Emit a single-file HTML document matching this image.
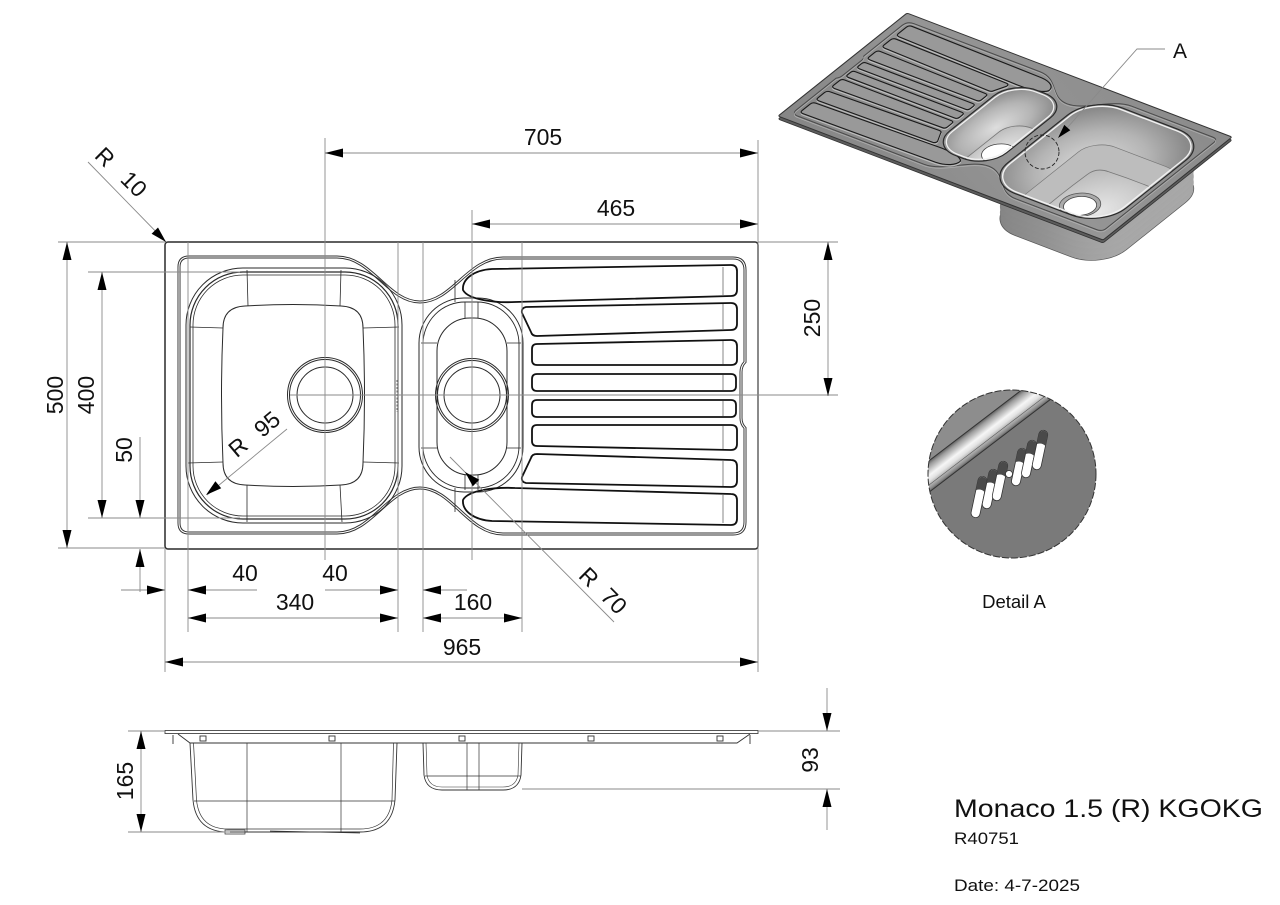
<!DOCTYPE html>
<html><head><meta charset="utf-8"><style>
html,body{margin:0;padding:0;background:#fff;}
svg{display:block;}
text{font-family:"Liberation Sans",Arial,sans-serif;fill:#111;}
</style></head><body>
<svg width="1280" height="905" viewBox="0 0 1280 905" xmlns="http://www.w3.org/2000/svg">
<defs>
<rect id="outl" vector-effect="non-scaling-stroke" x="165" y="242" width="593" height="307" rx="3"/>
<path id="rim" vector-effect="non-scaling-stroke" d="M189 257 L337 257 C372 257 388 302 420 302 C452 302 468 258 503 258 L733 258 Q745 258 745 270 L745 362 Q741 366 741 372 L741 418 Q741 424 745 428 L745 522 Q745 534 733 534 L503 534 C468 534 452 488 420 488 C388 488 372 533 337 533 L189 533 Q179 533 179 523 L179 267 Q179 257 189 257 Z"/>
<rect id="bb" vector-effect="non-scaling-stroke" x="186" y="268" width="216" height="255" rx="57"/>
<rect id="bb2" vector-effect="non-scaling-stroke" x="190" y="272" width="208" height="247" rx="53"/>
<rect id="bbi1" vector-effect="non-scaling-stroke" x="197" y="279" width="194" height="233" rx="48"/>
<rect id="bbi2" vector-effect="non-scaling-stroke" x="210" y="292" width="168" height="207" rx="38"/>
<path id="bbf" vector-effect="non-scaling-stroke" d="M245 306 Q293 303 341 306 Q363 307 363 328 Q366 395 363 463 Q363 484 341 485 Q293 488 245 485 Q223 484 223 463 Q220 395 223 328 Q223 307 245 306 Z"/>
<rect id="sb" vector-effect="non-scaling-stroke" x="419" y="298" width="104" height="194" rx="45"/>
<rect id="sb2" vector-effect="non-scaling-stroke" x="423" y="302" width="96" height="186" rx="42"/>
<rect id="sbf" vector-effect="non-scaling-stroke" x="437" y="318" width="70" height="157" rx="33"/>
<circle id="dr1" vector-effect="non-scaling-stroke" cx="325" cy="395" r="30"/>
<circle id="dr2" vector-effect="non-scaling-stroke" cx="472" cy="395" r="26"/>
<path id="grv" vector-effect="non-scaling-stroke" d="
M463 290 C462 279 474 270 492 269 L731 265 Q737 265 737 271 L737 290 Q737 296 731 296 L515 302 C496 303 468 300 463 290 Z
M526 307 L731 303 Q737 303 737 309 L737 324 Q737 330 731 330 L537 336 Q532 336 531 332 L522 313 Q521 308 526 307 Z
M537 344 L731 340 Q737 340 737 346 L737 360 Q737 365 731 365 L537 365 Q532 365 532 360 L532 349 Q532 344 537 344 Z
M537 374 L731 374 Q736 374 736 379 L736 386 Q736 391 731 391 L537 391 Q532 391 532 386 L532 379 Q532 374 537 374 Z
M537 400 L731 400 Q736 400 736 405 L736 412 Q736 417 731 417 L537 417 Q532 417 532 412 L532 405 Q532 400 537 400 Z
M537 446 L731 450 Q737 450 737 444 L737 430 Q737 425 731 425 L537 425 Q532 425 532 430 L532 441 Q532 446 537 446 Z
M526 483 L731 487 Q737 487 737 481 L737 466 Q737 460 731 460 L537 454 Q532 454 531 458 L522 477 Q521 482 526 483 Z
M463 500 C462 511 474 520 492 521 L731 525 Q737 525 737 519 L737 500 Q737 494 731 494 L515 488 C496 487 468 490 463 500 Z"/>
<linearGradient id="pg" x1="0" y1="0" x2="1" y2="1">
<stop offset="0" stop-color="#8b8b8b"/><stop offset="0.5" stop-color="#959595"/><stop offset="1" stop-color="#868686"/>
</linearGradient>
<radialGradient id="bwg" cx="0.5" cy="0.55" r="0.6">
<stop offset="0" stop-color="#dedede"/><stop offset="0.6" stop-color="#b4b4b4"/><stop offset="1" stop-color="#8a8a8a"/>
</radialGradient>
<radialGradient id="flg" cx="0.5" cy="0.5" r="0.6">
<stop offset="0" stop-color="#e8e8e8"/><stop offset="1" stop-color="#bdbdbd"/>
</radialGradient>
<linearGradient id="bodyg" x1="0" y1="0" x2="1" y2="0">
<stop offset="0" stop-color="#a8a8a8"/><stop offset="0.5" stop-color="#929292"/><stop offset="1" stop-color="#828282"/>
</linearGradient>
<clipPath id="cbb"><use href="#bb" transform="matrix(-0.548 -0.209 -0.420 0.3355 1424.06 90.3)"/></clipPath>
<clipPath id="csb"><use href="#sb" transform="matrix(-0.548 -0.209 -0.420 0.3355 1424.06 90.3)"/></clipPath>
<clipPath id="cdA"><circle cx="1012" cy="474" r="84"/></clipPath>
<linearGradient id="band" gradientUnits="userSpaceOnUse" x1="928" y1="462" x2="943.2" y2="481.9">
<stop offset="0" stop-color="#666"/><stop offset="0.12" stop-color="#9c9c9c"/><stop offset="0.45" stop-color="#f6f6f6"/><stop offset="0.62" stop-color="#e2e2e2"/><stop offset="0.9" stop-color="#8a8a8a"/><stop offset="1" stop-color="#555"/>
</linearGradient>
</defs>

<rect width="1280" height="905" fill="#fff"/>

<!-- ================= TOP VIEW ================= -->
<g fill="none" stroke="#2a2a2a" stroke-width="1">
  <use href="#outl" stroke-width="1.5"/>
  <use href="#rim" stroke="#333" stroke-width="3"/>
  <use href="#rim" stroke="#fff" stroke-width="1.1"/>
  <use href="#bb"/>
  <use href="#bb2" stroke-width="1.2"/>
  <rect x="193" y="275" width="202" height="241" rx="50" stroke-width="0.8"/>
  <use href="#bbf"/>
  <path d="M247 270 L248 306 M341 270 L340 306 M190 327 L223 328 M188 463 L223 462 M363 328 L399 327 M363 462 L399 463 M247 485 L247 522 M340 485 L342 522" stroke-width="0.8"/>
  <circle cx="325" cy="395" r="37.5"/>
  <circle cx="325" cy="395" r="35.5"/>
  <circle cx="325" cy="395" r="28"/>
  <use href="#sb"/>
  <use href="#sb2" stroke-width="0.9"/>
  <use href="#sbf"/>
  <path d="M465 302 L465 318 M478 302 L478 318 M465 475 L465 490 M478 475 L478 490 M421 343 L437 343 M421 448 L437 448 M507 343 L521 343 M507 448 L521 448 M455 280 L455 302 M455 488 L455 512" stroke-width="0.8"/>
  <circle cx="472" cy="395" r="36.5"/>
  <circle cx="472" cy="395" r="34.5"/>
  <circle cx="472" cy="395" r="28"/>
  <use href="#grv" stroke="#111" stroke-width="1.8"/>
  <path d="M723 267 L723 295 M723 304 L723 329 M723 341 L723 364 M723 375 L723 390 M723 401 L723 416 M723 426 L723 449 M723 461 L723 486 M723 495 L723 523" stroke-width="0.7" stroke="#555"/>
  <path d="M397 380 L397 412 M746 395 L752 395" stroke-width="0.8" stroke="#444" stroke-dasharray="2 1.5"/>
</g>

<!-- ================= DIMENSIONS (top view) ================= -->
<g stroke="#8a8a8a" stroke-width="0.9" fill="none">
  <path d="M325 138 L325 560 M472 210 L472 560 M758 140 L758 672 M165 549 L165 672"/>
  <path d="M290 395 L838 395 M758 242 L838 242"/>
  <path d="M58 242 L165 242 M58 548 L165 548 M88 272 L240 272 M88 518 L240 518"/>
  <path d="M188 242 L188 632 M398 242 L398 632 M423 242 L423 632 M522 242 L522 632"/>
  <path d="M325 153 L758 153 M472 224 L758 224 M828 242 L828 396"/>
  <path d="M67 242 L67 548 M102 272 L102 518 M140 437 L140 518 M140 549 L140 592"/>
  <path d="M121 590 L165 590 M188 590 L257 590 M325 590 L398 590 M423 590 L467 590"/>
  <path d="M188 618 L398 618 M423 618 L522 618 M165 662 L758 662"/>
  <path d="M88 162 L166 242 M207 495 L287 429 M450 457 L614 622"/>
</g>
<g fill="#000" stroke="none">
  <polygon points="325,153 343,148.5 343,157.5"/>
  <polygon points="758,153 740,148.5 740,157.5"/>
  <polygon points="472,224 490,219.5 490,228.5"/>
  <polygon points="758,224 740,219.5 740,228.5"/>
  <polygon points="828,242 823.5,260 832.5,260"/>
  <polygon points="828,396 823.5,378 832.5,378"/>
  <polygon points="67,242 62.5,260 71.5,260"/>
  <polygon points="67,548 62.5,530 71.5,530"/>
  <polygon points="102,272 97.5,290 106.5,290"/>
  <polygon points="102,518 97.5,500 106.5,500"/>
  <polygon points="140,518 135.5,500 144.5,500"/>
  <polygon points="140,549 135.5,567 144.5,567"/>
  <polygon points="165,590 147,585.5 147,594.5"/>
  <polygon points="188,590 206,585.5 206,594.5"/>
  <polygon points="398,590 380,585.5 380,594.5"/>
  <polygon points="423,590 441,585.5 441,594.5"/>
  <polygon points="188,618 206,613.5 206,622.5"/>
  <polygon points="398,618 380,613.5 380,622.5"/>
  <polygon points="423,618 441,613.5 441,622.5"/>
  <polygon points="522,618 504,613.5 504,622.5"/>
  <polygon points="165,662 183,657.5 183,666.5"/>
  <polygon points="758,662 740,657.5 740,666.5"/>
  <polygon points="166,242 158,227.5 151.6,233.8"/>
  <polygon points="206,495 221.2,488.3 215.4,481.3"/>
  <polygon points="465,472 479.3,479.8 472.8,486.2"/>
</g>
<g font-size="23" text-anchor="middle">
  <text x="543" y="145">705</text>
  <text x="616" y="216">465</text>
  <text x="245" y="581">40</text>
  <text x="335" y="581">40</text>
  <text x="295" y="610">340</text>
  <text x="473" y="610">160</text>
  <text x="462" y="655">965</text>
  <text transform="translate(63,395) rotate(-90)">500</text>
  <text transform="translate(94,395) rotate(-90)">400</text>
  <text transform="translate(132,450) rotate(-90)">50</text>
  <text transform="translate(820,318) rotate(-90)">250</text>
  <text transform="translate(105,157) rotate(45)" dy="8">R</text>
  <text transform="translate(134,184) rotate(45)" dy="8">10</text>
  <text transform="translate(238,447) rotate(-40)" dy="8">R</text>
  <text transform="translate(267,424) rotate(-40)" dy="8">95</text>
  <text transform="translate(589,577) rotate(45)" dy="8">R</text>
  <text transform="translate(614,601) rotate(45)" dy="8">70</text>
</g>

<!-- ================= SIDE VIEW ================= -->
<g fill="none" stroke="#333" stroke-width="0.9">
  <rect x="165" y="730.5" width="593" height="3" stroke="#444"/>
  <path d="M178 734 L190 743 L737 743 L750 734"/>
  <path d="M173 735 L173 744 M750 735 L750 744"/>
  <rect x="200" y="736" width="6" height="5"/>
  <rect x="329" y="736" width="6" height="5"/>
  <rect x="459" y="736" width="6" height="5"/>
  <rect x="588" y="736" width="6" height="5"/>
  <rect x="717" y="736" width="6" height="5"/>
  <path d="M190 743 L193 800 Q196 832 228 832 L360 832 Q392 832 395 800 L397 743"/>
  <path d="M193.5 743 L196.5 800 Q199.5 829 228 829 L360 829 Q389 829 392 800 L393.5 743" stroke-width="0.7"/>
  <path d="M194 801 L395 801 M247 743 L247 832 M341 743 L341 832" stroke-width="0.7"/>
  <path d="M225 830 L245 830 L245 834 L225 834 Z M270 831 L360 833" stroke-width="0.7"/>
  <path d="M423 743 L424 775 Q426 790 442 790 L503 790 Q519 790 521 775 L522 743"/>
  <path d="M426 743 L427 775 Q429 787 442 787 L503 787 Q516 787 518 775 L519 743" stroke-width="0.6"/>
  <path d="M425 776 L521 776 M467 743 L467 790 M479 743 L479 790" stroke-width="0.7"/>
</g>
<g stroke="#8a8a8a" stroke-width="0.9" fill="none">
  <path d="M128 731 L165 731 M128 832 L230 832 M141 731 L141 832"/>
  <path d="M758 731 L840 731 M522 789 L840 789 M827 688 L827 731 M827 789 L827 830"/>
</g>
<g fill="#000">
  <polygon points="141,731 136.5,749 145.5,749"/>
  <polygon points="141,832 136.5,814 145.5,814"/>
  <polygon points="827,731 822.5,713 831.5,713"/>
  <polygon points="827,789 822.5,807 831.5,807"/>
</g>
<g font-size="23" text-anchor="middle">
  <text transform="translate(133,781) rotate(-90)">165</text>
  <text transform="translate(818,760) rotate(-90)">93</text>
</g>

<!-- ================= ISO VIEW ================= -->
<g>
  <use href="#bbi2" transform="translate(0,50) matrix(-0.548 -0.209 -0.420 0.3355 1424.06 90.3)" fill="#a2a2a2" stroke="#444" stroke-width="0.9"/>
  <use href="#bbi1" transform="translate(0,46) matrix(-0.548 -0.209 -0.420 0.3355 1424.06 90.3)" fill="#a0a0a0" stroke="#555" stroke-width="0.7"/>
  <use href="#bb" transform="translate(0,42) matrix(-0.548 -0.209 -0.420 0.3355 1424.06 90.3)" fill="url(#bodyg)" stroke="#555" stroke-width="0.7"/>
  <use href="#bb" transform="translate(0,36) matrix(-0.548 -0.209 -0.420 0.3355 1424.06 90.3)" fill="url(#bodyg)"/>
  <use href="#bb" transform="translate(0,30) matrix(-0.548 -0.209 -0.420 0.3355 1424.06 90.3)" fill="url(#bodyg)"/>
  <use href="#bb" transform="translate(0,24) matrix(-0.548 -0.209 -0.420 0.3355 1424.06 90.3)" fill="url(#bodyg)"/>
  <use href="#bb" transform="translate(0,18) matrix(-0.548 -0.209 -0.420 0.3355 1424.06 90.3)" fill="url(#bodyg)"/>
  <use href="#bb" transform="translate(0,12) matrix(-0.548 -0.209 -0.420 0.3355 1424.06 90.3)" fill="url(#bodyg)"/>
  <use href="#bb" transform="translate(0,6) matrix(-0.548 -0.209 -0.420 0.3355 1424.06 90.3)" fill="url(#bodyg)"/>
  <use href="#outl" transform="translate(0,3) matrix(-0.548 -0.209 -0.420 0.3355 1424.06 90.3)" fill="#5c5c5c" stroke="#333" stroke-width="0.8"/>
  <use href="#outl" transform="matrix(-0.548 -0.209 -0.420 0.3355 1424.06 90.3)" fill="url(#pg)" stroke="#333" stroke-width="1"/>
  <use href="#rim" transform="matrix(-0.548 -0.209 -0.420 0.3355 1424.06 90.3)" fill="none" stroke="#4a4a4a" stroke-width="1"/>
  <use href="#rim" transform="translate(0,1.5) matrix(-0.548 -0.209 -0.420 0.3355 1424.06 90.3)" fill="none" stroke="#b0b0b0" stroke-width="0.7"/>
  <use href="#grv" transform="translate(0,1.5) matrix(-0.548 -0.209 -0.420 0.3355 1424.06 90.3)" fill="none" stroke="#c0c0c0" stroke-width="1"/>
  <use href="#grv" transform="matrix(-0.548 -0.209 -0.420 0.3355 1424.06 90.3)" fill="#999" stroke="#1a1a1a" stroke-width="1.1"/>
  <g clip-path="url(#cbb)">
    <use href="#bb" transform="matrix(-0.548 -0.209 -0.420 0.3355 1424.06 90.3)" fill="url(#bwg)"/>
    <use href="#bbi2" transform="translate(0,30) matrix(-0.548 -0.209 -0.420 0.3355 1424.06 90.3)" fill="#bdbdbd" stroke="#777" stroke-width="0.7"/>
    <use href="#bbf" transform="translate(0,50) matrix(-0.548 -0.209 -0.420 0.3355 1424.06 90.3)" fill="url(#flg)" stroke="#777" stroke-width="0.8"/>
    <use href="#dr1" transform="translate(0,50) matrix(-0.548 -0.209 -0.420 0.3355 1424.06 90.3)" fill="#aaa" stroke="#555" stroke-width="0.8"/>
    <use href="#dr1" transform="translate(0,51) matrix(-0.548 -0.209 -0.420 0.3355 1424.06 90.3) translate(325 395) scale(0.8) translate(-325 -395)" fill="#fff" stroke="#444" stroke-width="0.8"/>
  </g>
  <use href="#bb" transform="matrix(-0.548 -0.209 -0.420 0.3355 1424.06 90.3)" fill="none" stroke="#2a2a2a" stroke-width="1.2"/>
  <use href="#bb2" transform="matrix(-0.548 -0.209 -0.420 0.3355 1424.06 90.3)" fill="none" stroke="#f0f0f0" stroke-width="1.4"/>
  <g clip-path="url(#csb)">
    <use href="#sb" transform="matrix(-0.548 -0.209 -0.420 0.3355 1424.06 90.3)" fill="url(#bwg)"/>
    <use href="#sbf" transform="translate(0,30) matrix(-0.548 -0.209 -0.420 0.3355 1424.06 90.3)" fill="url(#flg)" stroke="#777" stroke-width="0.8"/>
    <use href="#dr2" transform="translate(0,30) matrix(-0.548 -0.209 -0.420 0.3355 1424.06 90.3)" fill="#fff" stroke="#444" stroke-width="0.8"/>
  </g>
  <use href="#sb" transform="matrix(-0.548 -0.209 -0.420 0.3355 1424.06 90.3)" fill="none" stroke="#2a2a2a" stroke-width="1.2"/>
  <use href="#sb2" transform="matrix(-0.548 -0.209 -0.420 0.3355 1424.06 90.3)" fill="none" stroke="#f0f0f0" stroke-width="1.3"/>
  <circle cx="1042" cy="152" r="17" fill="none" stroke="#222" stroke-width="0.9" stroke-dasharray="4 2"/>
  <path d="M1165 49 L1137 49 L1067 128" fill="none" stroke="#8a8a8a" stroke-width="0.9"/>
  <polygon points="1058,138 1070.3,130.3 1064.3,124.9" fill="#000"/>
  <text x="1180" y="58" font-size="21" text-anchor="middle">A</text>
</g>

<!-- ================= DETAIL A ================= -->
<g clip-path="url(#cdA)">
  <rect x="920" y="385" width="185" height="180" fill="#7a7a7a"/>
  <polygon points="896,486 1087,340 1087,300 896,300" fill="#8d8d8d"/>
  <polygon points="896,486 1087,340 1102,360 911,506" fill="url(#band)"/>
  <path d="M896 486 L1087 340 M911 506 L1102 360" stroke="#333" stroke-width="1"/>
  <path d="M908 501 L1099 355" stroke="#5a5a5a" stroke-width="0.6"/>
  <g stroke="#333" stroke-width="0.8">
    <g transform="translate(979,497) rotate(12)"><rect x="-4.5" y="-21" width="9" height="42" rx="4.5" fill="#fff"/><path d="M-4.5 -16 A4.5 4.5 0 0 1 4.5 -16 L4.5 -6 Q0 -9 -4.5 -6 Z" fill="#4a4a4a" stroke="none"/></g>
    <g transform="translate(990,489) rotate(12)"><rect x="-4.5" y="-20" width="9" height="40" rx="4.5" fill="#fff"/><path d="M-4.5 -15 A4.5 4.5 0 0 1 4.5 -15 L4.5 -5 Q0 -8 -4.5 -5 Z" fill="#4a4a4a" stroke="none"/></g>
    <g transform="translate(1000,481) rotate(12)"><rect x="-4.5" y="-20" width="9" height="40" rx="4.5" fill="#fff"/><path d="M-4.5 -15 A4.5 4.5 0 0 1 4.5 -15 L4.5 -5 Q0 -8 -4.5 -5 Z" fill="#4a4a4a" stroke="none"/></g>
    <circle cx="1009" cy="474" r="3.5" fill="#fff"/>
    <g transform="translate(1019,467) rotate(12)"><rect x="-4.5" y="-19" width="9" height="38" rx="4.5" fill="#fff"/><path d="M-4.5 -14 A4.5 4.5 0 0 1 4.5 -14 L4.5 -4 Q0 -7 -4.5 -4 Z" fill="#4a4a4a" stroke="none"/></g>
    <g transform="translate(1029,459) rotate(12)"><rect x="-4.5" y="-19" width="9" height="38" rx="4.5" fill="#fff"/><path d="M-4.5 -14 A4.5 4.5 0 0 1 4.5 -14 L4.5 -4 Q0 -7 -4.5 -4 Z" fill="#4a4a4a" stroke="none"/></g>
    <g transform="translate(1040,450) rotate(12)"><rect x="-4.5" y="-20" width="9" height="40" rx="4.5" fill="#fff"/><path d="M-4.5 -15 A4.5 4.5 0 0 1 4.5 -15 L4.5 -5 Q0 -8 -4.5 -5 Z" fill="#4a4a4a" stroke="none"/></g>
  </g>
</g>
<circle cx="1012" cy="474" r="84" fill="none" stroke="#333" stroke-width="1" stroke-dasharray="7 2"/>
<text x="1014" y="608" font-size="18.5" text-anchor="middle">Detail A</text>

<!-- ================= TITLE ================= -->
<text x="954" y="817" font-size="25" textLength="309" lengthAdjust="spacingAndGlyphs">Monaco 1.5 (R) KGOKG</text>
<text x="954" y="844" font-size="17" textLength="65" lengthAdjust="spacingAndGlyphs">R40751</text>
<text x="954" y="891" font-size="17" textLength="126" lengthAdjust="spacingAndGlyphs">Date: 4-7-2025</text>
</svg>
</body></html>
